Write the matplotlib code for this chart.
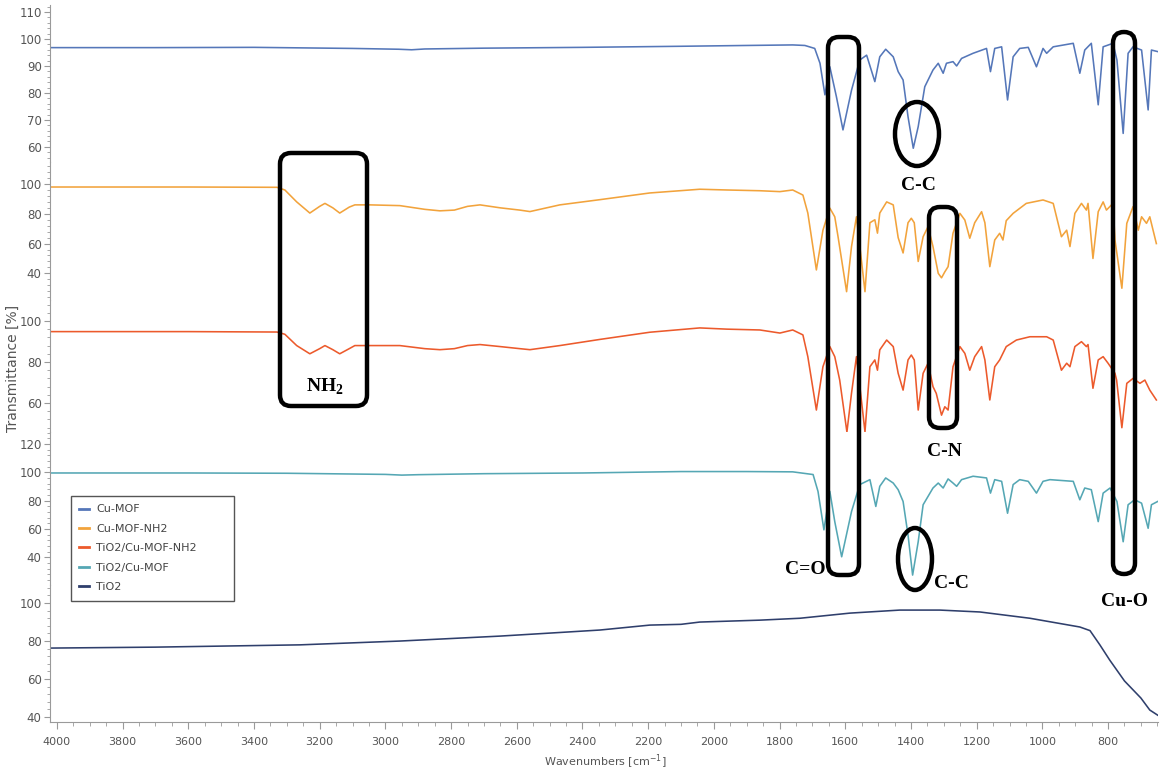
import matplotlib
matplotlib.use("Agg")
import matplotlib.pyplot as plt
from matplotlib.lines import Line2D
from matplotlib.patches import FancyBboxPatch, Ellipse
from matplotlib.ticker import MultipleLocator, FixedLocator

# ---- data (wavenumber cm-1, transmittance %) ----
labels = ["Cu-MOF", "Cu-MOF-NH2", "TiO2/Cu-MOF-NH2", "TiO2/Cu-MOF", "TiO2"]
colors = ["#5577b9", "#f2a33c", "#ec5a2c", "#55a7b4", "#2f3f6c"]

cu_mof_wn = [4021, 3700, 3400, 3100, 2960, 2920, 2880, 2700, 2400, 2100, 1900, 1760,
             1723, 1693, 1677, 1662, 1647, 1627, 1607, 1581, 1556, 1535, 1510, 1495,
             1477, 1454, 1439, 1424, 1409, 1393, 1378, 1358, 1333, 1317, 1302, 1292,
             1272, 1261, 1246, 1211, 1170, 1158, 1145, 1124, 1106, 1089, 1069, 1043,
             1018, 998, 987, 967, 906, 886, 871, 851, 830, 815, 785, 773, 754, 739,
             724, 698, 678, 668, 648]
cu_mof_t = [96.8, 96.8, 96.9, 96.5, 96.2, 96.0, 96.3, 96.6, 96.9, 97.3, 97.6, 97.8,
            97.6, 96.5, 91.0, 79.3, 89.7, 78.6, 66.3, 81.0, 92.2, 94.0, 84.2, 93.4,
            96.2, 93.4, 87.9, 84.8, 71.2, 59.5, 67.5, 82.3, 88.5, 91.0, 87.3, 91.0,
            91.6, 90.0, 92.8, 94.7, 96.5, 87.9, 96.5, 97.1, 77.4, 93.4, 96.5, 96.9,
            89.7, 96.5, 94.7, 97.1, 98.4, 87.3, 95.9, 98.4, 75.6, 97.1, 98.4, 92.2,
            65.0, 94.7, 97.1, 95.9, 73.7, 95.9, 95.3]

cu_mof_nh2_wn = [4021, 3600, 3330, 3306, 3270, 3230, 3200, 3184, 3160, 3139, 3110, 3093,
                 3047, 2956, 2880, 2834, 2790, 2750, 2712, 2650, 2591, 2560, 2469, 2347,
                 2195, 2043, 1960, 1860, 1799, 1760, 1729, 1714, 1688, 1668, 1647, 1632,
                 1622, 1596, 1581, 1566, 1540, 1525, 1510, 1502, 1495, 1474, 1454, 1439,
                 1424, 1409, 1399, 1390, 1378, 1363, 1348, 1333, 1317, 1307, 1297, 1287,
                 1272, 1251, 1236, 1221, 1206, 1185, 1175, 1160, 1145, 1130, 1120, 1110,
                 1089, 1049, 998, 967, 942, 926, 916, 901, 881, 866, 861, 846, 830, 815,
                 805, 785, 779, 758, 743, 724, 708, 698, 683, 673, 653]
cu_mof_nh2_t = [98.0, 98.0, 97.8, 96.0, 88.0, 80.5, 85.0, 87.0, 84.0, 80.5, 84.5, 86.0,
                86.0, 85.5, 83.0, 82.0, 82.5, 85.0, 86.0, 84.0, 82.5, 81.5, 86.0, 89.5,
                94.0, 96.5, 96.0, 95.5, 94.9, 96.0, 92.6, 80.5, 42.3, 69.0, 83.8, 78.0,
                64.6, 27.7, 58.0, 78.0, 27.7, 74.0, 76.0, 67.0, 80.5, 88.0, 86.0, 64.0,
                53.7, 74.0, 77.0, 74.0, 48.0, 64.6, 71.4, 58.0, 40.0, 37.0, 41.0, 44.5,
                67.0, 80.3, 75.8, 63.6, 74.0, 81.4, 74.0, 44.5, 62.4, 66.9, 62.4, 75.4,
                80.3, 87.0, 89.3, 87.0, 64.6, 69.0, 58.0, 80.3, 87.0, 82.5, 87.0, 50.0,
                81.4, 88.0, 82.5, 87.0, 62.4, 30.0, 73.6, 84.8, 69.0, 78.0, 73.6, 78.0,
                60.0]

tio2_cu_mof_nh2_wn = [4021, 3600, 3330, 3306, 3270, 3230, 3200, 3184, 3160, 3139, 3110,
                      3093, 3047, 2956, 2880, 2834, 2790, 2750, 2712, 2650, 2591, 2560,
                      2469, 2347, 2195, 2043, 1960, 1860, 1799, 1760, 1729, 1714, 1688,
                      1668, 1647, 1632, 1617, 1595, 1581, 1566, 1540, 1525, 1510, 1502,
                      1495, 1474, 1454, 1439, 1424, 1409, 1399, 1390, 1378, 1363, 1348,
                      1333, 1323, 1307, 1297, 1287, 1272, 1251, 1236, 1221, 1206, 1185,
                      1175, 1160, 1145, 1130, 1110, 1079, 1038, 987, 967, 942, 926, 916,
                      901, 881, 866, 861, 846, 830, 815, 800, 779, 774, 758, 743, 724,
                      703, 688, 673, 653]
tio2_cu_mof_nh2_t = [94.8, 94.8, 94.6, 93.5, 88.0, 84.0, 86.5, 88.0, 86.0, 84.0, 86.5,
                     88.0, 88.0, 88.0, 86.5, 86.0, 86.5, 88.0, 88.5, 87.5, 86.5, 86.0,
                     88.0, 91.0, 94.5, 96.6, 96.0, 95.6, 94.1, 95.6, 93.2, 82.6, 56.6,
                     77.7, 87.5, 82.6, 71.2, 45.9, 64.8, 82.6, 46.0, 77.7, 81.0, 76.0,
                     85.9, 90.7, 87.5, 74.5, 66.3, 81.0, 83.4, 81.0, 56.6, 74.5, 79.4,
                     68.0, 64.7, 54.1, 58.2, 56.6, 77.7, 87.5, 84.2, 76.0, 82.6, 87.5,
                     81.0, 61.5, 77.7, 81.0, 87.5, 90.7, 92.3, 92.3, 90.7, 76.0, 79.4, 77.7,
                     87.5, 89.9, 87.5, 88.5, 67.2, 81.0, 82.6, 79.4, 74.5, 71.2, 48.0, 69.6,
                     72.0, 69.6, 71.2, 66.3, 61.5]

tio2_cu_mof_wn = [4021, 3600, 3300, 3000, 2950, 2900, 2700, 2400, 2100, 1900, 1760, 1698,
                  1683, 1665, 1647, 1632, 1611, 1581, 1556, 1525, 1507, 1495, 1477, 1454,
                  1439, 1424, 1409, 1395, 1378, 1363, 1333, 1317, 1302, 1287, 1272, 1261,
                  1246, 1211, 1170, 1158, 1145, 1124, 1106, 1089, 1069, 1043, 1018, 998,
                  977, 906, 886, 871, 851, 830, 815, 794, 773, 754, 739, 719, 698, 678,
                  668, 649]
tio2_cu_mof_t = [99.5, 99.5, 99.3, 98.5, 98.0, 98.3, 99.0, 99.5, 100.5, 100.5, 100.3, 98.4,
                 86.5, 59.4, 86.5, 65.2, 40.4, 72.3, 91.3, 94.8, 75.9, 90.1, 96.0, 92.4,
                 87.7, 79.4, 55.8, 27.5, 51.0, 77.1, 88.9, 92.4, 88.9, 95.3, 92.4, 90.1,
                 94.8, 97.2, 96.0, 85.3, 94.8, 93.6, 71.1, 91.3, 94.8, 93.6, 85.3, 93.6,
                 94.8, 93.6, 80.6, 88.9, 87.7, 65.2, 85.3, 88.9, 79.4, 51.0, 77.1, 80.6,
                 78.2, 60.5, 77.1, 79.4]

tio2_wn = [4021, 3700, 3260, 2956, 2652, 2470, 2347, 2195, 2100, 2043, 1860, 1738, 1586,
           1434, 1312, 1190, 1038, 886, 855, 825, 795, 750, 700, 673, 649]
tio2_t = [76.3, 76.8, 78.0, 80.0, 82.6, 84.5, 85.8, 88.4, 88.8, 90.0, 91.0, 92.0, 94.7,
          96.3, 96.3, 95.3, 92.0, 87.4, 85.5, 78.0, 70.0, 59.0, 50.0, 43.7, 41.0]

spectra = [(cu_mof_wn, cu_mof_t), (cu_mof_nh2_wn, cu_mof_nh2_t),
           (tio2_cu_mof_nh2_wn, tio2_cu_mof_nh2_t), (tio2_cu_mof_wn, tio2_cu_mof_t),
           (tio2_wn, tio2_t)]

# panel layout (each spectrum has its own y scale, stacked with no gap)
panel_heights = [157, 138, 132, 153, 137]
panel_ylims = [(54.4, 112.6), (22.1, 114.8), (45.9, 110.2), (20.5, 128.4), (37.4, 109.5)]
panel_ticks = [[60, 70, 80, 90, 100, 110], [40, 60, 80, 100], [60, 80, 100],
               [40, 60, 80, 100, 120], [40, 60, 80, 100]]
panel_minor = [2, 4, 4, 4, 4]

W, H = 1163, 776
fig = plt.figure(figsize=(W / 100, H / 100), dpi=100)
gs = fig.add_gridspec(5, 1, height_ratios=panel_heights, hspace=0,
                      left=50 / W, right=1158 / W, top=1 - 5 / H, bottom=1 - 722 / H)

tick_col = "#555555"
spine_col = "#9a9a9a"
axes = []
for i, (wn, t) in enumerate(spectra):
    ax = fig.add_subplot(gs[i])
    ax.plot(wn, t, color=colors[i], lw=1.15, label=labels[i])
    ax.set_xlim(4021, 648)
    ax.set_ylim(*panel_ylims[i])
    ax.yaxis.set_major_locator(FixedLocator(panel_ticks[i]))
    ax.yaxis.set_minor_locator(MultipleLocator(panel_minor[i]))
    for s in ["top", "right"]:
        ax.spines[s].set_visible(False)
    ax.spines["left"].set_color(spine_col)
    if i < 4:
        ax.spines["bottom"].set_visible(False)
        ax.tick_params(axis="x", which="both", bottom=False, labelbottom=False)
    else:
        ax.spines["bottom"].set_color(spine_col)
        ax.xaxis.set_major_locator(MultipleLocator(200))
        ax.xaxis.set_minor_locator(MultipleLocator(50))
        ax.tick_params(axis="x", which="major", length=5, color=spine_col,
                       labelsize=8, labelcolor=tick_col, pad=6)
        ax.tick_params(axis="x", which="minor", length=3, color=spine_col)
    ax.tick_params(axis="y", which="major", length=4, color=spine_col,
                   labelsize=8.5, labelcolor=tick_col, pad=2)
    ax.tick_params(axis="y", which="minor", length=2, color=spine_col)
    ax.patch.set_alpha(0)
    axes.append(ax)

fig.text(13 / W, 1 - 368 / H, "Transmittance [%]", rotation=90, ha="center",
         va="center", fontsize=10, color=tick_col)
fig.text(605 / W, 1 - 762 / H, r"Wavenumbers [cm$^{-1}$]", ha="center", va="center",
         fontsize=8, color=tick_col)

handles = [Line2D([], [], color=c, lw=2) for c in colors]
leg = fig.legend(handles, labels, loc="upper left", mode="expand",
                 bbox_to_anchor=(65 / W, 1 - 603 / H, 175 / W, 113 / H),
                 fontsize=8, labelcolor="#444444", handlelength=0.9, handletextpad=0.6,
                 labelspacing=0.85, borderpad=0.8, fancybox=False, framealpha=1)
leg.get_frame().set_edgecolor("#555555")
leg.get_frame().set_linewidth(1.0)

# annotation overlay in pixel coordinates
ov = fig.add_axes([0, 0, 1, 1])
ov.set_xlim(0, W)
ov.set_ylim(H, 0)
ov.axis("off")
ov.patch.set_alpha(0)

boxes = [(280, 153, 87, 253), (828, 37, 31, 538), (1113, 32, 22, 542), (929, 207, 28, 221)]
for x0, y0, bw, bh in boxes:
    ov.add_patch(FancyBboxPatch((x0, y0), bw, bh, boxstyle="round,pad=0,rounding_size=11",
                                fill=False, ec="black", lw=3.2))
for cx, cy, ew, eh in [(917, 134, 44, 64), (915, 559, 34, 62)]:
    ov.add_patch(Ellipse((cx, cy), ew, eh, fill=False, ec="black", lw=3.2))

serif = dict(family="Liberation Serif", fontsize=14, fontweight="bold", color="black",
             ha="center", va="center")
ov.text(918, 186, "C-C", **serif)
ov.text(944, 452, "C-N", **serif)
ov.text(805, 570, "C=O", **serif)
ov.text(951, 584, "C-C", **serif)
ov.text(1124, 601, "Cu-O", **serif)
ov.text(325, 387, r"NH$_\mathregular{2}$", **serif)

fig.savefig("out.png", dpi=100)
